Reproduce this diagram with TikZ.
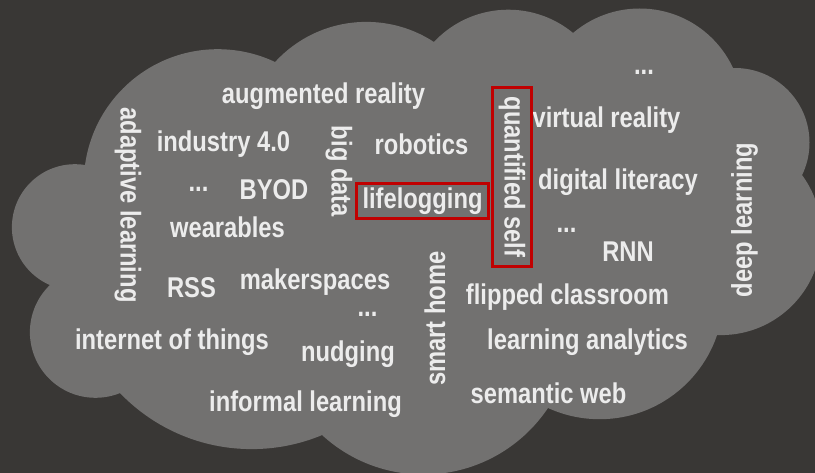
\documentclass[tikz,border=0pt]{standalone}
\usepackage{fontspec}
\setmainfont{Liberation Sans}[FakeStretch=0.83]
\definecolor{bgdark}{RGB}{57,55,53}
\definecolor{cloudgray}{RGB}{114,113,112}
\definecolor{wordwhite}{RGB}{236,236,236}
\definecolor{markred}{RGB}{192,0,0}
\tikzset{
    word/.style={text=wordwhite, inner sep=0pt, font=\bfseries\fontsize{28.6}{30}\selectfont},
    markbox/.style={draw=markred, line width=3pt},
}
\begin{document}
\begin{tikzpicture}[x=1pt, y=-1pt]
    % background
    \fill[bgdark] (0,0) rectangle (815,473);
    \useasboundingbox (0,0) rectangle (815,473);
    \clip (0,0) rectangle (815,473);

    % cloud: polygon through the notches, one circle per bump
    \fill[cloudgray] (85,165) -- (275,62) -- (434,42) -- (573,33) -- (733,68) -- (802,175)
        -- (717,335) -- (548,408) -- (322,435) -- (120,393) -- (50,285) -- cycle;
    \foreach \cx/\cy/\r in {217.8/183.2/134.0, 366.3/145.7/123.8, 508.3/111.5/101.8,
        639.7/111.4/102.9, 734.9/142.6/74.6, 720.9/234.5/100.6, 599.6/295.2/124.0,
        423.4/324.6/149.9, 251.7/266.3/182.8, 95.5/332.2/65.6, 74.9/227.2/63.0}
        \fill[cloudgray] (\cx,\cy) circle (\r pt);

    % horizontal words (placed at their baseline)
    \foreach \name/\x/\y/\txt in {augmented/323.5/104/augmented reality,
        industry/223.5/152/industry 4.0, robotics/421.5/155/robotics,
        byod/274/200/BYOD, wearables/227.5/238/wearables,
        virtual/606.5/128/virtual reality,
        digital/618/190/digital literacy, rnn/628/262/RNN,
        flipped/567.5/305/flipped classroom, analytics/587.5/350/learning analytics,
        semantic/548.5/403/semantic web, rss/191.5/298/RSS,
        makerspaces/315/290/makerspaces,
        internet/172/350/internet of things, nudging/348/362/nudging,
        informal/305.5/412/informal learning}
        \node[word, anchor=base] (\name) at (\x,\y) {\txt};

    % the four "..." entries
    \foreach \name/\x/\y in {dotsA/198.5/192, dotsB/644/75, dotsC/566.5/233, dotsD/367.5/317}
        \node[word, anchor=base] (\name) at (\x,\y) {.\kern0pt.\kern0pt.};

    % vertical words
    \foreach \name/\x/\y/\ang/\txt in {adaptive/128/205/-90/adaptive learning,
        bigdata/339/171.5/-90/big data, deep/744.5/220/90/deep learning,
        smarthome/435/318.5/90/smart home}
        \node[word, rotate=\ang] (\name) at (\x,\y) {\txt};

    % marked words
    \node[word, markbox, minimum width=132pt, minimum height=35pt] (lifelogging) at (422.5,201) {lifelogging};
    \node[word, markbox, rotate=-90, minimum width=179pt, minimum height=39pt] (quantified) at (512,177) {quantified self};
\end{tikzpicture}
\end{document}
